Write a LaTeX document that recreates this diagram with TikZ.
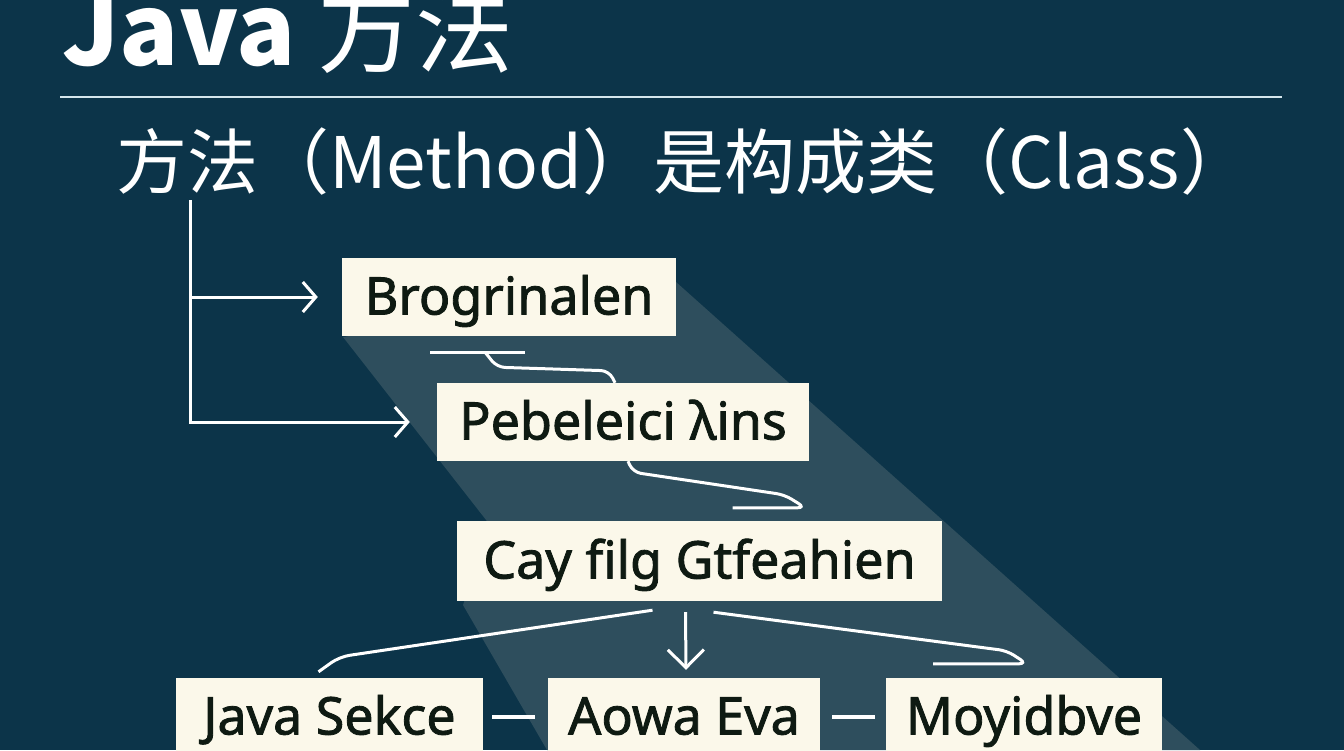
\documentclass[tikz,border=0pt]{standalone}
\usepackage{fontspec}
\setmainfont{Noto Sans}
\newfontfamily\cjk{Noto Sans CJK SC}
\newfontfamily\rotulo[FakeBold=1.6]{Noto Sans}
\usetikzlibrary{arrows.meta,calc}

\definecolor{fundo}{HTML}{0C3449}
\definecolor{faixa}{HTML}{2E4E5D}
\definecolor{creme}{HTML}{FBF8EA}
\definecolor{tinta}{HTML}{0E1A12}
\definecolor{regua}{HTML}{D5E6EC}

\tikzset{
  caixa/.style={fill=creme, text=tinta, font=\rotulo\fontsize{52}{60}\selectfont,
    inner xsep=0pt, inner ysep=0pt, text height=35pt, text depth=0pt, minimum height=78pt},
  liga/.style={draw=white, line width=3pt},
  seta/.style={liga, -{Straight Barb[length=13pt,width=30pt,line width=3pt]}}
}

\begin{document}
\begin{tikzpicture}[x=1pt, y=-1pt]
    % Fundo e recorte
    \clip (0,0) rectangle (1344,750);
    \fill[fundo] (0,0) rectangle (1344,750);

    % Faixa clara (sombra diagonal)
    \fill[faixa] (343,337) -- (676,282) -- (1200,750) -- (547,750) -- (463,605) -- (490,525) -- cycle;

    % Titulo e regua
    \node[anchor=base west, inner sep=0pt, text=white, font=\cjk\fontsize{98}{100}\selectfont] (titulo) at (62,65) {{\bfseries Java} 方法};
    \draw[regua, line width=2.5pt] (60,97) -- (1282,97);

    % Subtitulo
    \node[anchor=base west, inner sep=0pt, text=white, font=\cjk\fontsize{71}{75}\selectfont] (subtitulo) at (116,188) {方法（Method）是构成类（Class）};

    % Caixas
    \node[caixa, minimum width=334pt] (b1) at (509,297) {Brogrinalen};
    \node[caixa, minimum width=372pt] (b2) at (623,422) {Pebeleici λins};
    \node[caixa, minimum width=485pt, minimum height=80pt] (b3) at (699.5,561) {Cay filg Gtfeahien};
    \node[caixa, minimum width=307pt] (jsk) at (329.5,717) {Java Sekce};
    \node[caixa, minimum width=272pt] (aow) at (684,717) {Aowa Eva};
    \node[caixa, minimum width=276pt] (moy) at (1024,717) {Moyidbve};

    % Tronco a partir do subtitulo
    \coordinate (tronco) at (190,200);
    \draw[seta, shorten >=24pt] (tronco) |- (b1.west);
    \draw[seta, shorten >=27pt] (tronco) |- (b2.west);

    % Ligacoes entre caixas
    \draw[liga] ($(b1.south)+(-79,16)$) -- ++(95,0);
    \draw[liga, rounded corners=8pt] ($(b1.south)+(-24,16)$) -- ($(b1.south)+(-12,31)$) -- ($(b2.north)+(-14,-12)$) -- ($(b2.north)+(-8,0)$);
    \draw[liga, rounded corners=8pt] ($(b2.south)+(5,0)$) -- ($(b2.south)+(10,11)$) -- ($(b3.north)+(85,-26)$) -- ($(b3.north)+(106,-13)$) -- ($(b3.north)+(33,-13)$);

    % Ramos para a linha de baixo
    \draw[liga, rounded corners=10pt] ($(b3.south)+(-47,9)$) -- ($(jsk.north)+(10,-21)$) -- ($(jsk.north)+(-11,-6)$);
    \draw[liga, -{Straight Barb[length=18pt,width=36pt,line width=3pt]}] ($(b3.south)+(-14,11)$) -- ($(aow.north)+(2,-8)$);
    \draw[liga, rounded corners=8pt] ($(b3.south)+(14,11)$) -- ($(moy.north)+(-17,-27)$) -- ($(moy.north)+(3,-14)$) -- ($(moy.north)+(-91,-14)$);

    % Tracos entre caixas
    \draw[liga, line width=4pt, shorten <=9pt, shorten >=13pt] (jsk.east) -- (aow.west);
    \draw[liga, line width=4pt, shorten <=12pt, shorten >=11pt] (aow.east) -- (moy.west);
\end{tikzpicture}
\end{document}
